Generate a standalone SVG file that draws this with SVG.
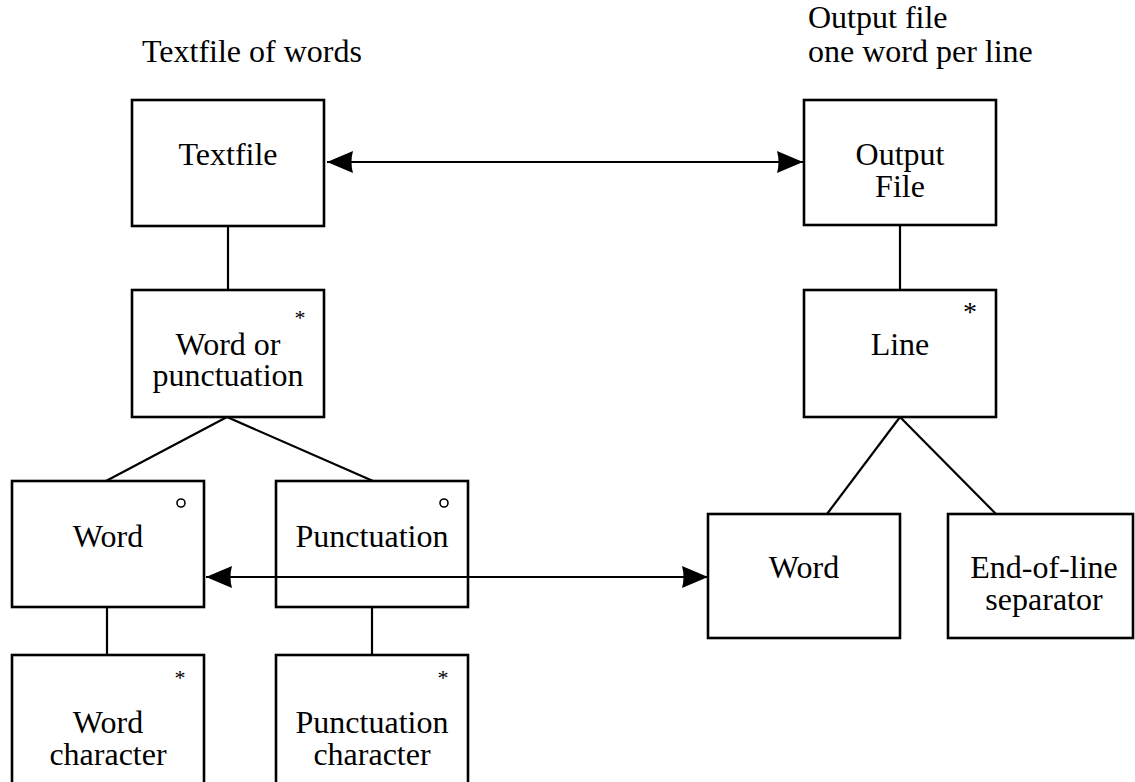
<svg xmlns="http://www.w3.org/2000/svg" width="1135" height="782" viewBox="0 0 1135 782" font-family="Liberation Serif, DejaVu Serif, serif">
  <style>
    .box { fill: none; stroke: #000000; stroke-width: 2.6; }
    text { font-family: 'Liberation Serif', 'DejaVu Serif', serif; fill: #000000; }
    .lbl { font-size: 32px; text-anchor: middle; }
    .cap { font-size: 32px; }
    .mark { font-size: 22px; text-anchor: middle; }
    .sel { fill: none; stroke: #000000; stroke-width: 1.6; }
    .conn line { stroke: #000000; stroke-width: 2.2; fill: none; }
  </style>
  <defs>
    <marker id="arrow" markerUnits="userSpaceOnUse" viewBox="0 0 26 24" markerWidth="26" markerHeight="24" refX="26" refY="12" orient="auto-start-reverse">
      <path d="M0,1 L26,12 L0,23 Q3,12 0,1 Z" fill="#000000"/>
    </marker>
  </defs>

  <rect width="1135" height="782" fill="#ffffff"/>

  <!-- captions -->
  <text class="cap" x="142" y="62">Textfile of words</text>
  <text class="cap" x="808" y="28">Output file</text>
  <text class="cap" x="808" y="62">one word per line</text>

  <!-- connectors -->
  <g id="connectors" class="conn">
    <line x1="228" y1="226" x2="228" y2="290"/>
    <line x1="900" y1="225" x2="900" y2="290"/>
    <line x1="227" y1="417" x2="106" y2="481"/>
    <line x1="227" y1="417" x2="373" y2="481"/>
    <line x1="900" y1="417" x2="827" y2="514"/>
    <line x1="900" y1="417" x2="996" y2="514"/>
    <line x1="107" y1="607" x2="107" y2="655"/>
    <line x1="372" y1="607" x2="372" y2="655"/>
    <line x1="327" y1="162" x2="803" y2="162" marker-start="url(#arrow)" marker-end="url(#arrow)"/>
    <line x1="206" y1="577" x2="708" y2="577" marker-start="url(#arrow)" marker-end="url(#arrow)"/>
  </g>

  <g id="textfile">
    <rect class="box" x="132" y="100" width="192" height="126"/>
    <text class="lbl" x="228" y="165">Textfile</text>
  </g>

  <g id="output-file">
    <rect class="box" x="804" y="100" width="192" height="125"/>
    <text class="lbl" x="900" y="165">Output</text>
    <text class="lbl" x="900" y="197">File</text>
  </g>

  <g id="word-or-punctuation">
    <rect class="box" x="132" y="290" width="192" height="127"/>
    <text class="mark" x="300" y="325">*</text>
    <text class="lbl" x="228" y="355">Word or</text>
    <text class="lbl" x="228" y="386">punctuation</text>
  </g>

  <g id="line">
    <rect class="box" x="804" y="290" width="192" height="127"/>
    <text class="mark" x="970" y="321" style="font-size:28px">*</text>
    <text class="lbl" x="900" y="355">Line</text>
  </g>

  <g id="word-in">
    <rect class="box" x="12" y="481" width="192" height="126"/>
    <circle class="sel" cx="181" cy="503" r="4"/>
    <text class="lbl" x="108" y="547">Word</text>
  </g>

  <g id="punctuation">
    <rect class="box" x="276" y="481" width="192" height="126"/>
    <circle class="sel" cx="444" cy="503" r="4"/>
    <text class="lbl" x="372" y="547">Punctuation</text>
  </g>

  <g id="word-out">
    <rect class="box" x="708" y="514" width="192" height="124"/>
    <text class="lbl" x="804" y="578">Word</text>
  </g>

  <g id="end-of-line-separator">
    <rect class="box" x="948" y="514" width="185" height="124"/>
    <text class="lbl" x="1044" y="578">End-of-line</text>
    <text class="lbl" x="1044" y="610">separator</text>
  </g>

  <g id="word-character">
    <rect class="box" x="12" y="655" width="192" height="140"/>
    <text class="mark" x="180" y="685">*</text>
    <text class="lbl" x="108" y="733">Word</text>
    <text class="lbl" x="108" y="765">character</text>
  </g>

  <g id="punctuation-character">
    <rect class="box" x="276" y="655" width="192" height="140"/>
    <text class="mark" x="443" y="685">*</text>
    <text class="lbl" x="372" y="733">Punctuation</text>
    <text class="lbl" x="372" y="765">character</text>
  </g>
</svg>
